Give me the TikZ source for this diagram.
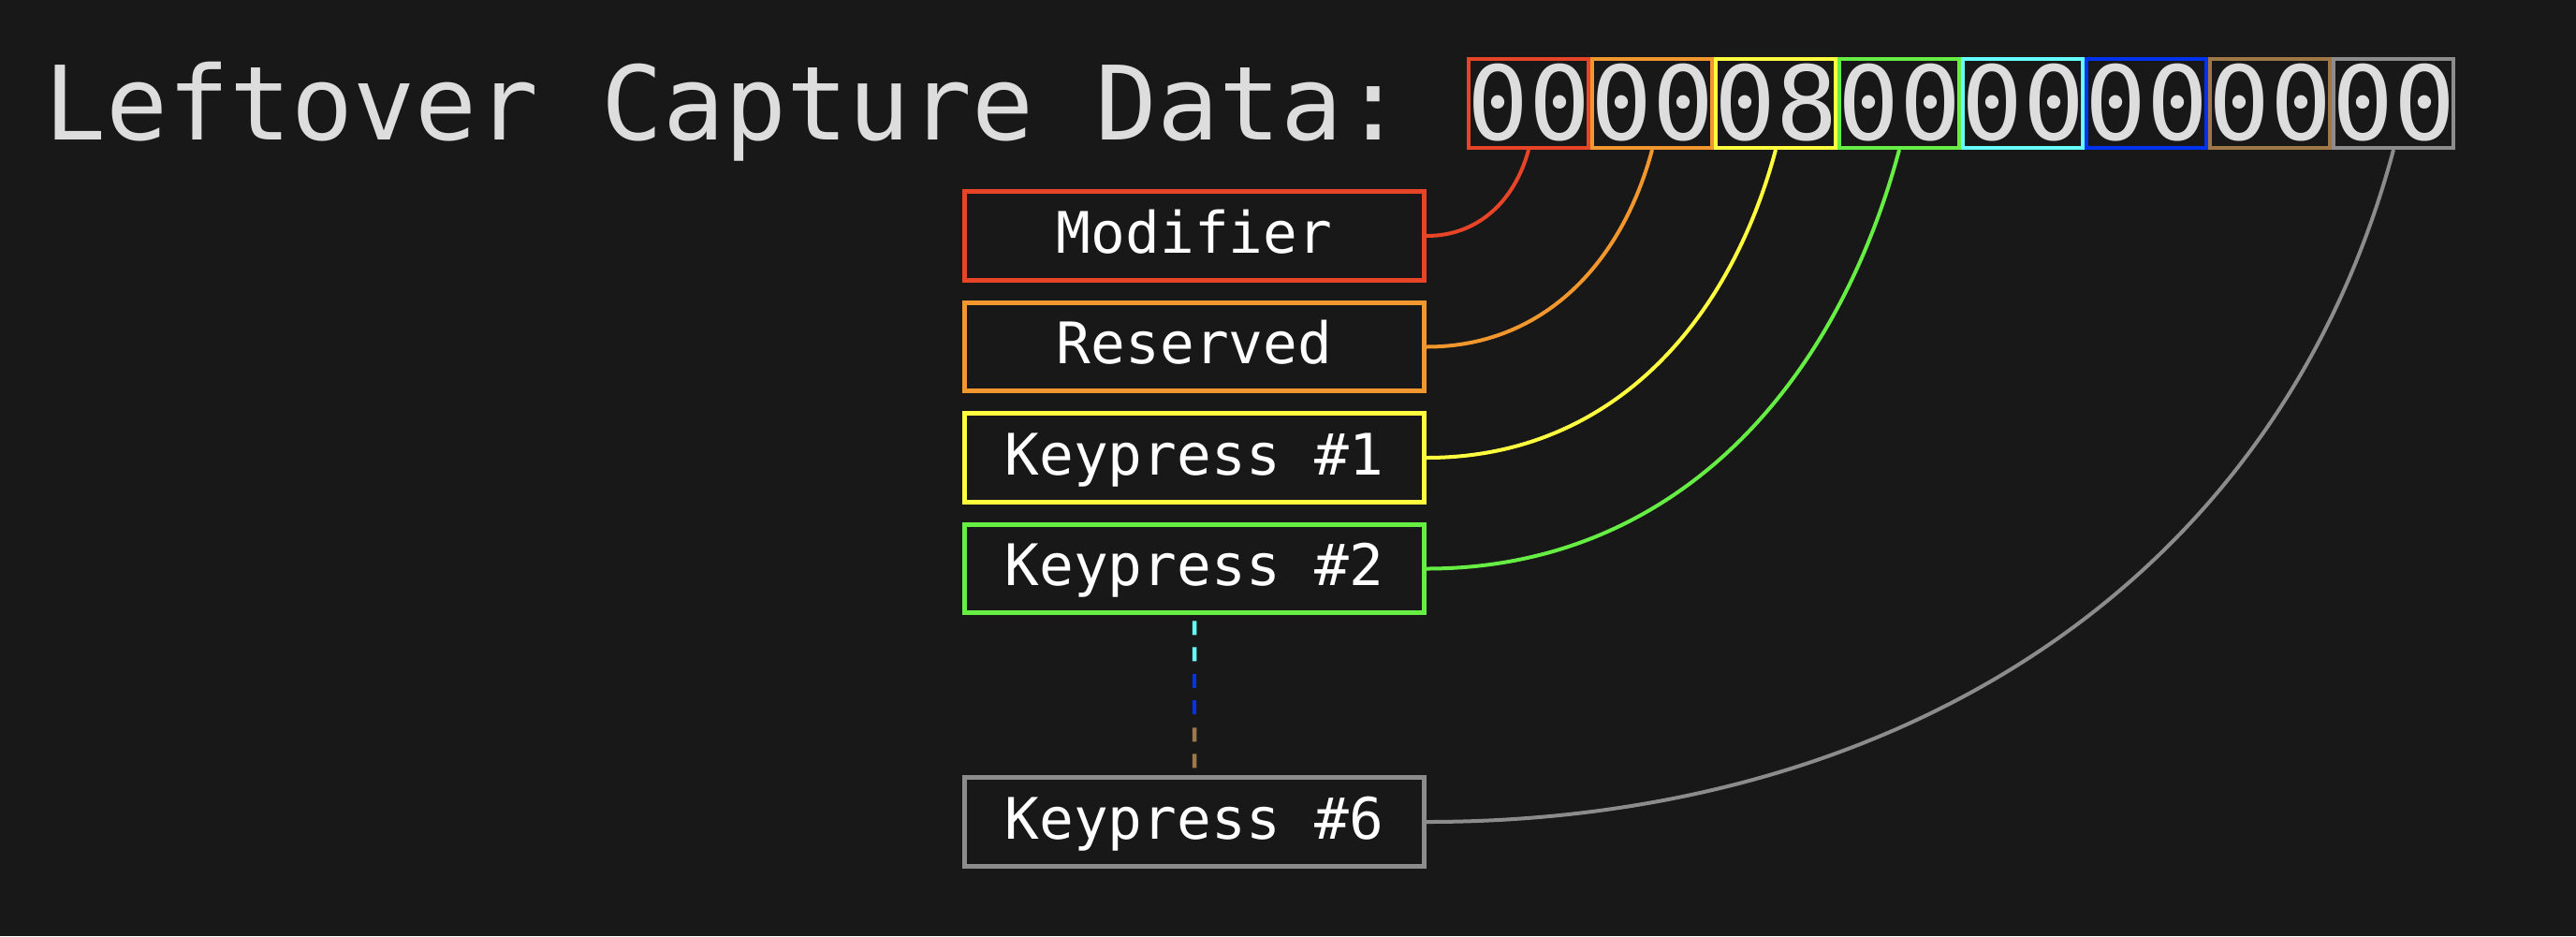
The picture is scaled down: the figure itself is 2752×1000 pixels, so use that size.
\documentclass[tikz,border=0pt]{standalone}
\usepackage{fontspec}
\usetikzlibrary{positioning,calc}

\newfontfamily\codefont{DejaVu Sans Mono}

\definecolor{bg}{HTML}{181818}
\definecolor{txtgrey}{HTML}{DDDDDD}
\definecolor{cred}{HTML}{E84427}
\definecolor{corange}{HTML}{F2972E}
\definecolor{cyellow}{HTML}{FFFF40}
\definecolor{cgreen}{HTML}{66EE44}
\definecolor{ccyan}{HTML}{66FFFF}
\definecolor{cblue}{HTML}{0033F0}
\definecolor{cbrown}{HTML}{A07848}
\definecolor{cgrey}{HTML}{8C8C8C}

\tikzset{
  bytebox/.style={draw=#1, line width=0.4mm, inner xsep=-0.2mm, inner ysep=0,
    text height=8.6mm, text depth=0.9mm, anchor=base, text=txtgrey,
    font=\codefont\fontsize{31.2pt}{36pt}\selectfont},
  fieldbox/.style={draw=#1, line width=0.5mm, minimum width=49.1mm,
    minimum height=9.45mm, text height=4.9mm, text depth=1.3mm, inner sep=0,
    text=white, font=\codefont\fontsize{17.4pt}{20pt}\selectfont},
  link/.style={draw=#1, line width=0.4mm},
  gapline/.style={draw=#1, line width=0.45mm, dash pattern=on 1.5mm off 1.3mm, dash phase=2.2mm},
}

\begin{document}
\begin{tikzpicture}[x=0.1mm, y=-0.1mm]
\fill[bg] (0,0) rectangle (2752,1000);
\useasboundingbox (0,0) rectangle (2752,1000);

% Title
\node[anchor=base east, inner sep=0, text=txtgrey, font=\codefont\fontsize{31.2pt}{36pt}\selectfont]
  (title) at (1501,149) {Leftover Capture Data:};

% The eight bytes of the report
\foreach \i/\col/\val in {0/cred/00, 1/corange/00, 2/cyellow/08, 3/cgreen/00,
                          4/ccyan/00, 5/cblue/00, 6/cbrown/00, 7/cgrey/00}
  \node[bytebox=\col] (b\i) at ({1633+132*\i},149) {\val};

% Field labels
\node[fieldbox=cred] (mod) at (1276,252) {Modifier};
\node[fieldbox=corange, below=1.9mm of mod] (res) {Reserved};
\node[fieldbox=cyellow, below=1.9mm of res] (key1) {Keypress \#1};
\node[fieldbox=cgreen, below=1.9mm of key1] (key2) {Keypress \#2};
\node[fieldbox=cgrey] (key6) at (1276,878) {Keypress \#6};

% Links from bytes to labels
\draw[link=cred] (b0.south) to[out=-105, in=0] (mod.east);
\draw[link=corange] (b1.south) to[out=-105, in=0] (res.east);
\draw[link=cyellow] (b2.south) to[out=-105, in=0] (key1.east);
\draw[link=cgreen] (b3.south) to[out=-105, in=0] (key2.east);
\draw[link=cgrey] (b7.south) to[out=-105, in=0] (key6.east);

% Keypress #3 to #5 left out
\coordinate (gap1) at ($(key2.south)!1/3!(key6.north)$);
\coordinate (gap2) at ($(key2.south)!2/3!(key6.north)$);
\draw[gapline=ccyan] (key2.south) -- (gap1);
\draw[gapline=cblue] (gap1) -- (gap2);
\draw[gapline=cbrown] (gap2) -- (key6.north);
\end{tikzpicture}
\end{document}
